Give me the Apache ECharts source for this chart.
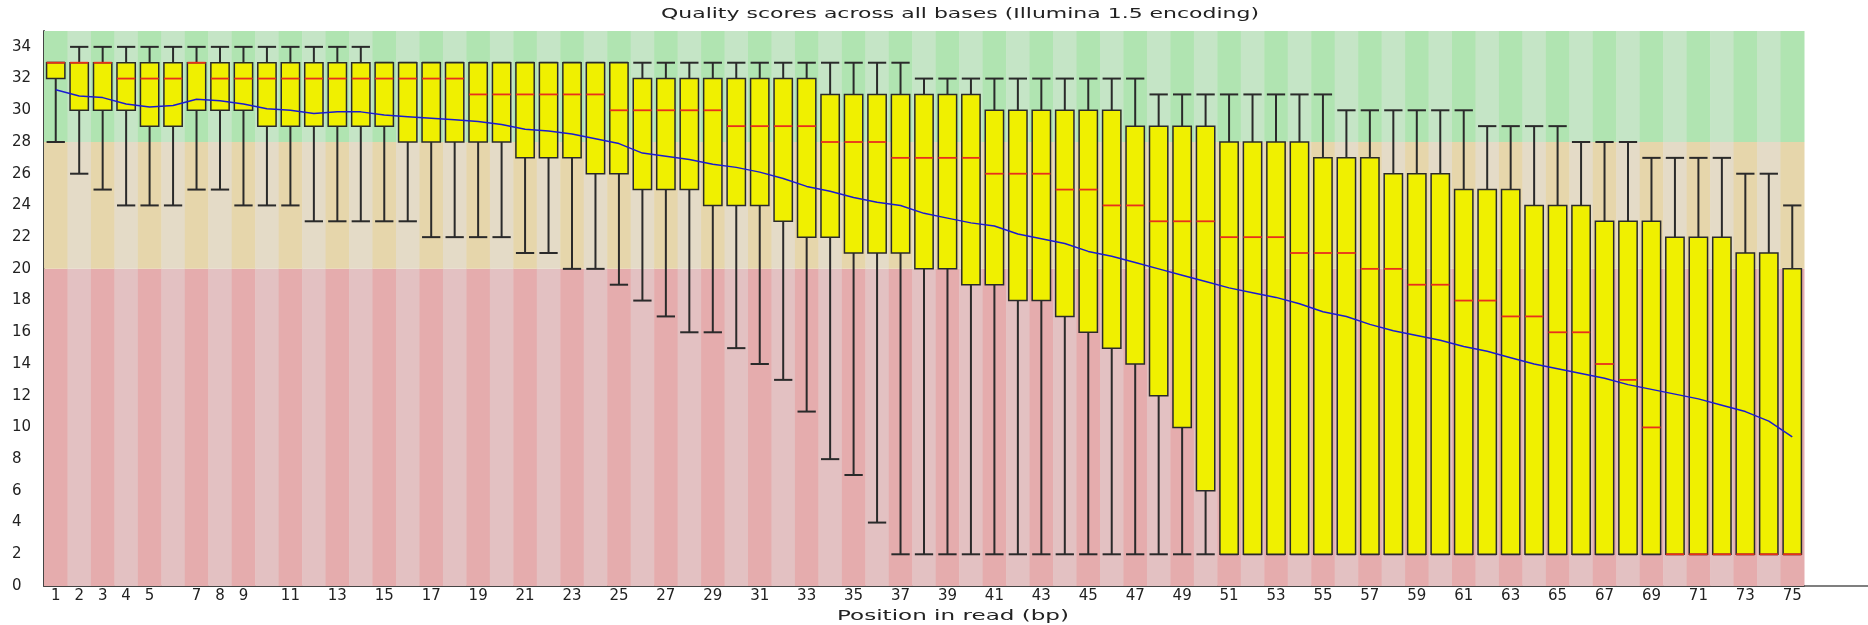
<!DOCTYPE html>
<html><head><meta charset="utf-8">
<script src="https://cdn.jsdelivr.net/npm/echarts@6/dist/echarts.min.js"></script>
<style>html,body{margin:0;padding:0;background:#fff}#c{width:1868px;height:625px}</style>
</head><body><div id="c"></div>
<script>
const titleText = 'Quality scores across all bases (Illumina 1.5 encoding)';
const xAxisTitle = 'Position in read (bp)';
const positions = [1,2,3,4,5,6,7,8,9,10,11,12,13,14,15,16,17,18,19,20,21,22,23,24,25,26,27,28,29,30,31,32,33,34,35,36,37,38,39,40,41,42,43,44,45,46,47,48,49,50,51,52,53,54,55,56,57,58,59,60,61,62,63,64,65,66,67,68,69,70,71,72,73,74,75];
const xTickLabels = ['1','2','3','4','5','','7','8','9','','11','','13','','15','','17','','19','','21','','23','','25','','27','','29','','31','','33','','35','','37','','39','','41','','43','','45','','47','','49','','51','','53','','55','','57','','59','','61','','63','','65','','67','','69','','71','','73','','75'];
const lowerWhisker = [28,26,25,24,24,24,25,25,24,24,24,23,23,23,23,23,22,22,22,22,21,21,20,20,19,18,17,16,16,15,14,13,11,8,7,4,2,2,2,2,2,2,2,2,2,2,2,2,2,2,2,2,2,2,2,2,2,2,2,2,2,2,2,2,2,2,2,2,2,2,2,2,2,2,2];
const lowerQuartile = [32,30,30,30,29,29,30,30,30,29,29,29,29,29,29,28,28,28,28,28,27,27,27,26,26,25,25,25,24,24,24,23,22,22,21,21,21,20,20,19,19,18,18,17,16,15,14,12,10,6,2,2,2,2,2,2,2,2,2,2,2,2,2,2,2,2,2,2,2,2,2,2,2,2,2];
const medianValues = [33,33,33,32,32,32,33,32,32,32,32,32,32,32,32,32,32,32,31,31,31,31,31,31,30,30,30,30,30,29,29,29,29,28,28,28,27,27,27,27,26,26,26,25,25,24,24,23,23,23,22,22,22,21,21,21,20,20,19,19,18,18,17,17,16,16,14,13,10,2,2,2,2,2,2];
const upperQuartile = [33,33,33,33,33,33,33,33,33,33,33,33,33,33,33,33,33,33,33,33,33,33,33,33,33,32,32,32,32,32,32,32,32,31,31,31,31,31,31,31,30,30,30,30,30,30,29,29,29,29,28,28,28,28,27,27,27,26,26,26,25,25,25,24,24,24,23,23,23,22,22,22,21,21,20];
const upperWhisker = [33,34,34,34,34,34,34,34,34,34,34,34,34,34,33,33,33,33,33,33,33,33,33,33,33,33,33,33,33,33,33,33,33,33,33,33,33,32,32,32,32,32,32,32,32,32,32,31,31,31,31,31,31,31,31,30,30,30,30,30,30,29,29,29,29,28,28,28,27,27,27,27,26,26,24];
const meanValues = [31.3,30.9,30.8,30.4,30.2,30.3,30.7,30.6,30.4,30.1,30.0,29.8,29.9,29.9,29.7,29.6,29.5,29.4,29.3,29.1,28.8,28.7,28.5,28.2,27.9,27.3,27.1,26.9,26.6,26.4,26.1,25.7,25.2,24.9,24.5,24.2,24.0,23.5,23.2,22.9,22.7,22.2,21.9,21.6,21.1,20.8,20.4,20.0,19.6,19.2,18.8,18.5,18.2,17.8,17.3,17.0,16.5,16.1,15.8,15.5,15.1,14.8,14.4,14.0,13.7,13.4,13.1,12.7,12.4,12.1,11.8,11.4,11.0,10.4,9.4];
const bandEdges = [0, 20, 28, 35];
const bandColorsOdd = ['#e5acad', '#e6d6ab', '#b0e4b1'];
const bandColorsEven = ['#e3c1c2', '#e4dbc7', '#c5e5c6'];

const FONT = '"DejaVu Sans", sans-serif';
function fitScale(text, size, target) {
  const ctx = document.createElement('canvas').getContext('2d');
  ctx.font = size + 'px "DejaVu Sans"';
  return target / ctx.measureText(text).width;
}

const chart = echarts.init(document.getElementById('c'), null, {renderer: 'canvas'});

const bgData = positions.map((p, i) => [i]);
const boxData = positions.map((p, i) => [i, lowerWhisker[i], lowerQuartile[i], medianValues[i], upperQuartile[i], upperWhisker[i]]);

const option = {
  animation: false,
  backgroundColor: '#ffffff',
  grid: {left: 44, right: 64, top: 31, bottom: 39, containLabel: false},
  xAxis: {
    type: 'category',
    data: positions.map(String),
    boundaryGap: true,
    axisTick: {show: false},
    axisLine: {show: true, lineStyle: {color: '#444', width: 2}},
    axisLabel: {interval: 0, margin: 3, fontSize: 15, fontFamily: FONT, color: '#222',
      formatter: (v, idx) => xTickLabels[idx]},
    splitLine: {show: false}
  },
  yAxis: {
    type: 'value', min: 0, max: 35, interval: 2,
    axisTick: {show: false},
    axisLine: {show: true, lineStyle: {color: '#444', width: 2}},
    axisLabel: {align: 'left', margin: 32, fontSize: 15, fontFamily: FONT, color: '#222', showMaxLabel: false},
    splitLine: {show: false}
  },
  graphic: [
    {type: 'line', shape: {x1: 1804, y1: 586, x2: 1868, y2: 586}, style: {stroke: '#555', lineWidth: 1.5}, z: 10},
    {type: 'text', x: 661, y: 14, scaleX: fitScale(titleText, 14, 598),
      style: {text: titleText, fontSize: 14, fontFamily: FONT, fill: '#222', verticalAlign: 'middle', align: 'left'}},
    {type: 'text', x: 837, y: 616, scaleX: fitScale(xAxisTitle, 14, 232),
      style: {text: xAxisTitle, fontSize: 14, fontFamily: FONT, fill: '#222', verticalAlign: 'middle', align: 'left'}}
  ],
  series: [
    {
      type: 'custom', z: 1, silent: true, data: bgData,
      encode: {x: 0},
      renderItem: function (params, api) {
        const i = api.value(0);
        const w = api.size([1, 0])[0];
        const cx = api.coord([i, 0])[0];
        const colors = (i % 2 === 0) ? bandColorsOdd : bandColorsEven;
        const children = [];
        for (let b = 0; b < 3; b++) {
          const y0 = api.coord([i, bandEdges[b]])[1];
          const y1 = api.coord([i, bandEdges[b + 1]])[1];
          children.push({type: 'rect', shape: {x: cx - w / 2, y: y1, width: w + 0.5, height: y0 - y1},
            style: {fill: colors[b]}});
        }
        return {type: 'group', children};
      }
    },
    {
      type: 'custom', z: 2, silent: true, data: boxData,
      encode: {x: 0, y: [1, 2, 3, 4, 5]},
      renderItem: function (params, api) {
        const i = api.value(0);
        const cx = api.coord([i, 0])[0];
        const bw = api.size([1, 0])[0] * 0.78;
        const yLow = api.coord([i, api.value(1)])[1];
        const yQ1 = api.coord([i, api.value(2)])[1];
        const yMed = api.coord([i, api.value(3)])[1];
        const yQ3 = api.coord([i, api.value(4)])[1];
        const yHigh = api.coord([i, api.value(5)])[1];
        const ws = {stroke: '#2a2a2a', lineWidth: 2};
        return {type: 'group', children: [
          {type: 'line', shape: {x1: cx, y1: yLow, x2: cx, y2: yQ1}, style: ws},
          {type: 'line', shape: {x1: cx, y1: yQ3, x2: cx, y2: yHigh}, style: ws},
          {type: 'line', shape: {x1: cx - bw / 2, y1: yLow, x2: cx + bw / 2, y2: yLow}, style: ws},
          {type: 'line', shape: {x1: cx - bw / 2, y1: yHigh, x2: cx + bw / 2, y2: yHigh}, style: ws},
          {type: 'rect', shape: {x: cx - bw / 2, y: yQ3, width: bw, height: yQ1 - yQ3},
            style: {fill: '#f0f000', stroke: '#2a2a2a', lineWidth: 1.5}},
          {type: 'line', shape: {x1: cx - bw / 2, y1: yMed, x2: cx + bw / 2, y2: yMed},
            style: {stroke: '#e8301c', lineWidth: 1.8}}
        ]};
      }
    },
    {
      type: 'line', z: 3, data: meanValues, symbol: 'none', silent: true,
      lineStyle: {color: '#1a1ad0', width: 1.5}
    }
  ]
};
chart.setOption(option);
</script>
</body></html>
